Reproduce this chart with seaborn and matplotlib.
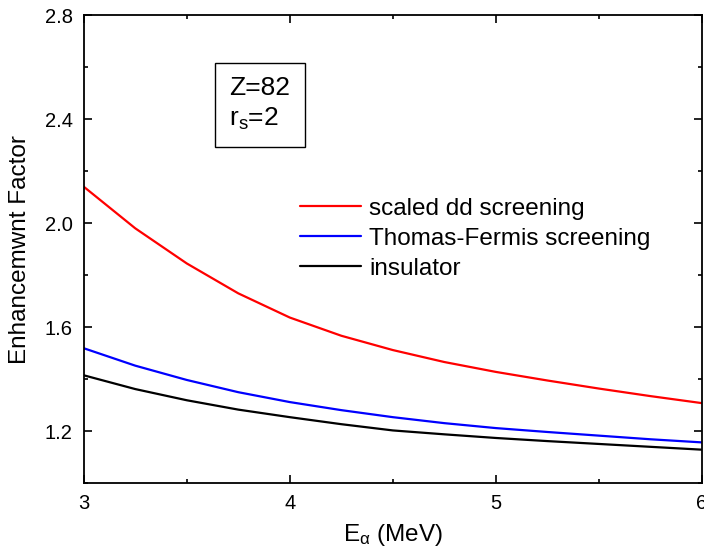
import pandas as pd
import seaborn as sns
import matplotlib.pyplot as plt
from matplotlib.ticker import MultipleLocator

# energies (MeV) and enhancement factors
energy = [3.0, 3.25, 3.5, 3.75, 4.0, 4.25, 4.5, 4.75, 5.0, 5.25, 5.5, 5.75, 6.0]
scaled_dd = [2.14, 1.98, 1.845, 1.73, 1.637, 1.567, 1.512, 1.466, 1.428, 1.395, 1.364, 1.335, 1.308]
thomas_fermi = [1.519, 1.452, 1.397, 1.350, 1.312, 1.281, 1.254, 1.231, 1.212, 1.197, 1.183, 1.169, 1.157]
insulator = [1.415, 1.362, 1.319, 1.283, 1.254, 1.227, 1.203, 1.188, 1.174, 1.162, 1.151, 1.140, 1.129]

labels = ["scaled dd screening", "Thomas-Fermis screening", "insulator"]
colors = ["#ff0000", "#0000ff", "#000000"]

df = pd.DataFrame({
    "E": energy * 3,
    "F": scaled_dd + thomas_fermi + insulator,
    "model": [labels[0]] * len(energy) + [labels[1]] * len(energy) + [labels[2]] * len(energy),
})

sns.set_style("ticks")
plt.rcParams['font.family'] = ['Liberation Sans', 'DejaVu Sans']
plt.rcParams['mathtext.fontset'] = 'custom'
plt.rcParams['mathtext.rm'] = 'Liberation Sans'
plt.rcParams['mathtext.it'] = 'Liberation Sans'
for key in ['text.color', 'axes.labelcolor', 'xtick.color', 'ytick.color', 'axes.edgecolor']:
    plt.rcParams[key] = 'black'

fig = plt.figure(figsize=(7.04, 5.58), dpi=100)
ax = fig.add_axes([0.119, 0.134, 0.878, 0.839])

sns.lineplot(data=df, x="E", y="F", hue="model", palette=colors, linewidth=1.6, ax=ax)

ax.set_xlim(3, 6)
ax.set_ylim(1.0, 2.8)
ax.xaxis.set_major_locator(MultipleLocator(1))
ax.xaxis.set_minor_locator(MultipleLocator(0.5))
ax.yaxis.set_minor_locator(MultipleLocator(0.2))
ax.set_yticks([1.2, 1.6, 2.0, 2.4, 2.8])
ax.tick_params(which='both', direction='in', top=True, right=True, width=1.2, labelsize=14.5, pad=8)
ax.tick_params(which='major', length=6)
ax.tick_params(which='minor', length=3)
for s in ax.spines.values():
    s.set_linewidth(1.3)

ax.set_xlabel(r"E$_\alpha$ (MeV)", fontsize=17.5, labelpad=6)
ax.set_ylabel("Enhancemwnt Factor", fontsize=17.5, labelpad=10)

sns.move_legend(ax, "upper left", bbox_to_anchor=(0.35, 0.61), frameon=False, title=None,
                fontsize=17.5, handlelength=2.5, handletextpad=0.35, labelspacing=0.33,
                borderpad=0, borderaxespad=0)

ax.text(0.235, 0.81, "Z=82\nr$_s$=2", transform=ax.transAxes, fontsize=19,
        ha='left', va='center', linespacing=1.3,
        bbox=dict(boxstyle='square,pad=0.55', facecolor='white', edgecolor='black', linewidth=1.0))

fig.savefig("out.png", dpi=100)
